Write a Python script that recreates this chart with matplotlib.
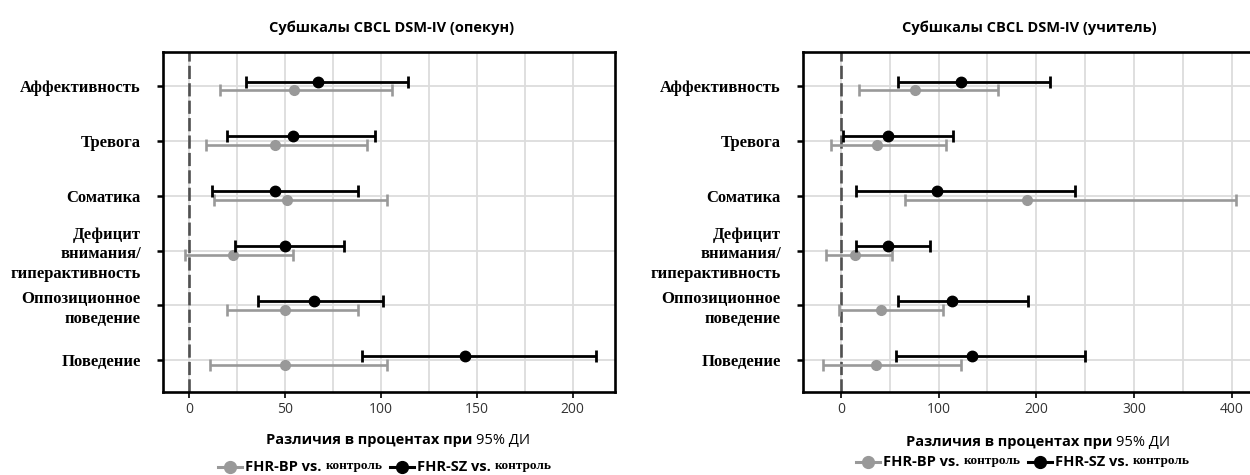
import matplotlib.pyplot as plt
from matplotlib.ticker import MultipleLocator
from matplotlib.lines import Line2D
import matplotlib as mpl

mpl.rcParams['font.family'] = ['Open Sans', 'DejaVu Sans']

categories = ['Аффективность', 'Тревога', 'Соматика',
              'Дефицит\nвнимания/\nгиперактивность',
              'Оппозиционное\nповедение', 'Поведение']

# caregiver report (опекун): estimate, lower CI, upper CI
bp_care = [55, 45, 51, 23, 50, 50]
bp_care_lo = [16, 9, 13, -2, 20, 11]
bp_care_hi = [106, 93, 103, 54, 88, 103]
sz_care = [67, 54, 45, 50, 65, 144]
sz_care_lo = [30, 20, 12, 24, 36, 90]
sz_care_hi = [114, 97, 88, 81, 101, 212]

# teacher report (учитель)
bp_teach = [76, 37, 190, 14, 41, 36]
bp_teach_lo = [18, -10, 65, -15, -2, -18]
bp_teach_hi = [161, 108, 405, 52, 104, 123]
sz_teach = [123, 48, 98, 48, 114, 134]
sz_teach_lo = [58, 2, 15, 15, 58, 56]
sz_teach_hi = [214, 115, 240, 91, 192, 250]

titles = ['Субшкалы CBCL DSM-IV (опекун)', 'Субшкалы CBCL DSM-IV (учитель)']
xlabel_bold = 'Различия в процентах при '
xlabel_rest = '95% ДИ'
labels_bp = ('FHR-BP vs.', 'контроль')
labels_sz = ('FHR-SZ vs.', 'контроль')

GREY = '#999999'
serif = ['Liberation Serif', 'DejaVu Serif']

fig = plt.figure(figsize=(12.5, 4.75), dpi=100)
ax1 = fig.add_axes([0.1304, 0.1747, 0.3616, 0.7158])
ax2 = fig.add_axes([0.6424, 0.1747, 0.3600, 0.7158])


def forest(ax, bp, bp_lo, bp_hi, sz, sz_lo, sz_hi, xlim, major, minor):
    ypos = list(range(len(categories)))
    off = 0.08
    ax.axvline(0, color='#505050', ls=(0, (5, 1.6)), lw=1.9, zorder=2)
    ax.errorbar(bp, [y + off for y in ypos],
                xerr=[[c - l for c, l in zip(bp, bp_lo)],
                      [h - c for c, h in zip(bp, bp_hi)]],
                fmt='o', color=GREY, ms=7, elinewidth=1.9, capsize=4,
                capthick=1.9, zorder=3)
    ax.errorbar(sz, [y - off for y in ypos],
                xerr=[[c - l for c, l in zip(sz, sz_lo)],
                      [h - c for c, h in zip(sz, sz_hi)]],
                fmt='o', color='black', ms=7.5, elinewidth=2.0, capsize=4.5,
                capthick=2.0, zorder=4)
    ax.set_yticks(ypos, categories, family=serif, fontweight='bold',
                  fontsize=12, linespacing=1.3)
    ax.set_ylim(5.58, -0.62)
    ax.set_xlim(*xlim)
    ax.xaxis.set_major_locator(MultipleLocator(major))
    ax.xaxis.set_minor_locator(MultipleLocator(minor))
    ax.grid(which='both', color='#dcdcdc', lw=1.3, zorder=0)
    ax.tick_params(axis='y', length=4, width=1.8, pad=12)
    ax.tick_params(axis='x', which='major', length=4, width=1.2,
                   labelsize=10, labelcolor='#333333', pad=3)
    ax.tick_params(axis='x', which='minor', length=0)
    for s in ax.spines.values():
        s.set_linewidth(1.9)


forest(ax1, bp_care, bp_care_lo, bp_care_hi, sz_care, sz_care_lo,
       sz_care_hi, (-13.5, 222), 50, 25)
forest(ax2, bp_teach, bp_teach_lo, bp_teach_hi, sz_teach, sz_teach_lo,
       sz_teach_hi, (-39, 422), 100, 50)

fig.canvas.draw()
renderer = fig.canvas.get_renderer()
W, H = fig.bbox.width, fig.bbox.height


def text_row(xc, y, pieces):
    """Lay out pieces left to right in pixels, centred on xc."""
    items = []
    total = 0
    for p in pieces:
        if p[0] == 'handle':
            w = 24
            items.append((p, w))
        elif p[0] == 'gap':
            w = p[1]
            items.append((p, w))
        else:
            _, s, kw = p
            kw = dict(kw)
            dy = kw.pop('dy', 0)
            t = fig.text(0, 0, s, transform=None, va='baseline', **kw)
            w = t.get_window_extent(renderer).width
            items.append((('t', t, dy), w))
        total += w
    x = xc - total / 2
    for p, w in items:
        if p[0] == 'handle':
            col, ms = p[1], p[2]
            fig.add_artist(Line2D([x / W, (x + w) / W], [(y + 4) / H] * 2,
                                  color=col, lw=2.2, transform=fig.transFigure))
            fig.add_artist(Line2D([(x + w / 2) / W], [(y + 4) / H],
                                  marker='o', ms=ms, color=col,
                                  transform=fig.transFigure))
        elif p[0] == 't':
            p[1].set_position((x, y + p[2]))
        x += w


for ax, title in zip([ax1, ax2], titles):
    bb = ax.get_window_extent(renderer)
    xc = (bb.x0 + min(bb.x1, W)) / 2 + 3
    fig.text(xc / W, 1 - 32 / H, title, ha='center', va='baseline',
             fontweight='bold', fontsize=10.5)

text_row(398, H - 444, [('t', xlabel_bold, dict(fontweight='bold', fontsize=10.5)),
                         ('t', xlabel_rest, dict(fontsize=10.5))])
text_row(1038, H - 446, [('t', xlabel_bold, dict(fontweight='bold', fontsize=10.5)),
                          ('t', xlabel_rest, dict(fontsize=10.5))])

for xc, yb in [(385, H - 471), (1023, H - 466)]:
    text_row(xc, yb, [('handle', GREY, 8.5), ('gap', 3),
                      ('t', labels_bp[0] + ' ', dict(fontweight='bold', fontsize=10.5)),
                      ('t', labels_bp[1], dict(family=serif, fontweight='bold',
                                               fontsize=9.5, dy=2)),
                      ('gap', 8),
                      ('handle', 'black', 8.5), ('gap', 3),
                      ('t', labels_sz[0] + ' ', dict(fontweight='bold', fontsize=10.5)),
                      ('t', labels_sz[1], dict(family=serif, fontweight='bold',
                                               fontsize=9.5, dy=2))])

fig.savefig('out.png', dpi=100)
